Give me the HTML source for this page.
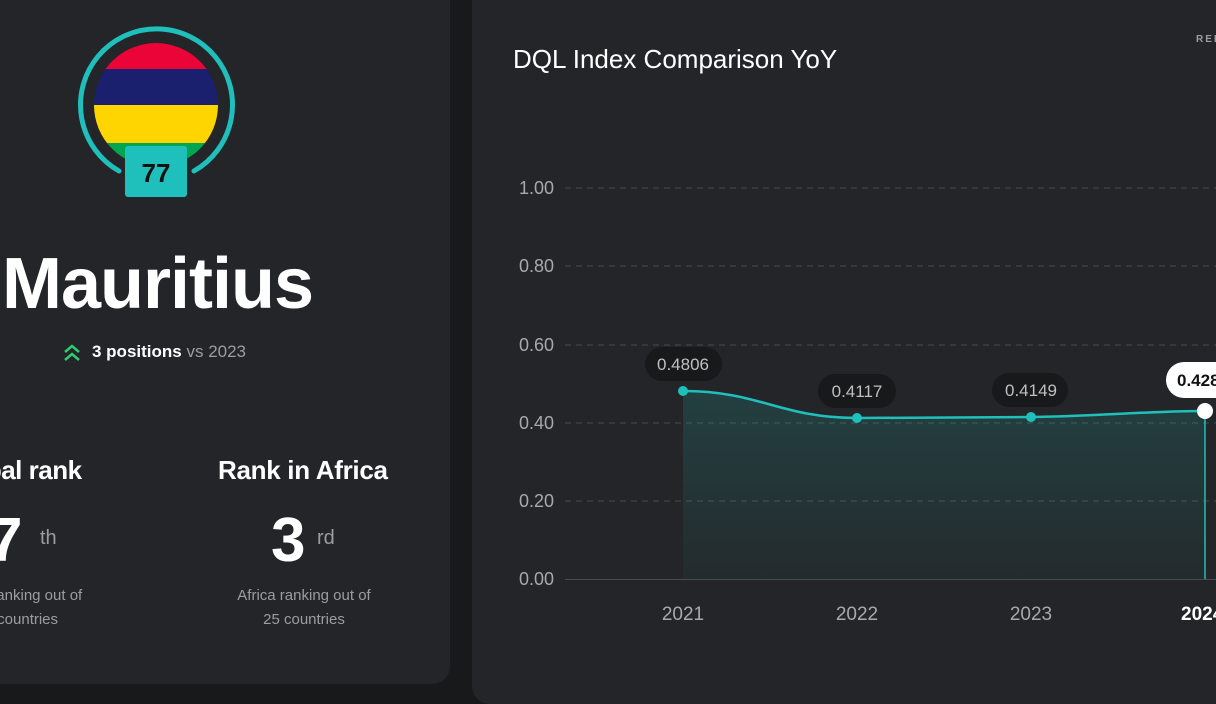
<!DOCTYPE html><html><head><style>
body{margin:0;width:1216px;height:684px;background:#18191b;overflow:hidden;font-family:"Liberation Sans",sans-serif;position:relative}
.l{position:absolute;left:-20px;top:-20px;width:470px;height:704px;background:#242528;border-radius:18px}
.r{position:absolute;left:472px;top:-20px;width:780px;height:724px;background:#242528;border-radius:18px}
.t{position:absolute;color:#fff;white-space:nowrap}
</style></head><body>
<div class="l"></div><div class="r"></div>
<svg width="1216" height="684" style="position:absolute;left:0;top:0">
<defs><clipPath id="c"><circle cx="156" cy="105" r="62"/></clipPath>
<linearGradient id="g" x1="0" y1="0" x2="0" y2="1"><stop offset="0" stop-color="#1fb8b3" stop-opacity=".18"/><stop offset="1" stop-color="#1fb8b3" stop-opacity=".04"/></linearGradient></defs>
<g clip-path="url(#c)"><rect x="90" y="40" width="140" height="29" fill="#ea0437"/><rect x="90" y="69" width="140" height="36" fill="#1a206d"/><rect x="90" y="105" width="140" height="38" fill="#ffd500"/><rect x="90" y="143" width="140" height="30" fill="#00a551"/></g>
<path d="M119 171 A76 76 0 1 1 194 171" fill="none" stroke="#1fbfbc" stroke-width="5" stroke-linecap="round"/>
<rect x="125" y="146" width="62" height="51" rx="3" fill="#1fbfbc"/>
<text x="156" y="182" text-anchor="middle" font-weight="bold" font-size="26" fill="#111">77</text>
<path d="M65 352 l7 -6 l7 6 M65 360 l7 -6 l7 6" fill="none" stroke="#2ecc71" stroke-width="2.5"/>
<g stroke="#4a4b4f" stroke-dasharray="6 5" stroke-width="1"><line x1="565" y1="188" x2="1216" y2="188"/><line x1="565" y1="266" x2="1216" y2="266"/><line x1="565" y1="345" x2="1216" y2="345"/><line x1="565" y1="423" x2="1216" y2="423"/><line x1="565" y1="501" x2="1216" y2="501"/></g>
<line x1="565" y1="579.5" x2="1216" y2="579.5" stroke="#4a4b4f"/>
<g fill="#a8a9ac" font-size="18" text-anchor="end"><text x="554" y="194">1.00</text><text x="554" y="272">0.80</text><text x="554" y="351">0.60</text><text x="554" y="429">0.40</text><text x="554" y="507">0.20</text><text x="554" y="585">0.00</text></g>
<path d="M683 391 C760 391 780 418 857 418 L1031 417 C1100 416 1150 411 1205 411 L1205 579 L683 579Z" fill="url(#g)"/>
<path d="M683 391 C760 391 780 418 857 418 L1031 417 C1100 416 1150 411 1205 411" fill="none" stroke="#1fbfbc" stroke-width="2.5"/>
<line x1="1205" y1="411" x2="1205" y2="579" stroke="#1fbfbc" stroke-width="1.5"/>
<circle cx="683" cy="391" r="5" fill="#1fbfbc"/><circle cx="857" cy="418" r="5" fill="#1fbfbc"/><circle cx="1031" cy="417" r="5" fill="#1fbfbc"/><circle cx="1205" cy="411" r="8" fill="#fff"/>
<g fill="#18191b"><rect x="645" y="347" width="77" height="34" rx="17"/><rect x="818" y="374" width="78" height="34" rx="17"/><rect x="992" y="373" width="76" height="34" rx="17"/></g>
<rect x="1166" y="362" width="80" height="36" rx="18" fill="#fff"/>
<g fill="#bfc0c2" font-size="17" text-anchor="middle"><text x="683" y="370">0.4806</text><text x="857" y="397">0.4117</text><text x="1031" y="396">0.4149</text></g>
<text x="1177" y="386" font-size="17" font-weight="bold" fill="#111">0.4287</text>
<g fill="#a8a9ac" font-size="19" text-anchor="middle"><text x="683" y="620">2021</text><text x="857" y="620">2022</text><text x="1031" y="620">2023</text></g>
<text x="1181" y="620" font-size="19" font-weight="bold" fill="#fff">2024</text>
</svg>
<div class="t" style="left:2px;top:243px;font-size:72px;font-weight:bold;letter-spacing:-1px">Mauritius</div>
<div class="t" style="left:92px;top:342px;font-size:17px"><b>3 positions</b> <span style="color:#9c9da0">vs 2023</span></div>
<div class="t" style="left:-56px;top:455px;font-size:26px;font-weight:bold;letter-spacing:-0.5px">Global rank</div>
<div class="t" style="left:218px;top:455px;font-size:26px;font-weight:bold;letter-spacing:-0.3px">Rank in Africa</div>
<div class="t" style="left:-12px;top:505px;font-size:62px;font-weight:bold">7</div>
<div class="t" style="left:40px;top:527px;font-size:20px;color:#9c9da0">th</div>
<div class="t" style="left:271px;top:505px;font-size:62px;font-weight:bold">3</div>
<div class="t" style="left:317px;top:527px;font-size:20px;color:#9c9da0">rd</div>
<div class="t" style="left:-88px;top:584px;width:202px;text-align:center;font-size:15px;color:#9c9da0;line-height:24px">Global ranking out of<br>121 countries</div>
<div class="t" style="left:203px;top:584px;width:202px;text-align:center;font-size:15px;color:#9c9da0;line-height:24px">Africa ranking out of<br>25 countries</div>
<div class="t" style="left:513px;top:44px;font-size:26px">DQL Index Comparison YoY</div>
<div class="t" style="left:1196px;top:34px;font-size:10px;font-weight:bold;letter-spacing:2px;color:#9c9da0">RELATIVE</div>
</body></html>
